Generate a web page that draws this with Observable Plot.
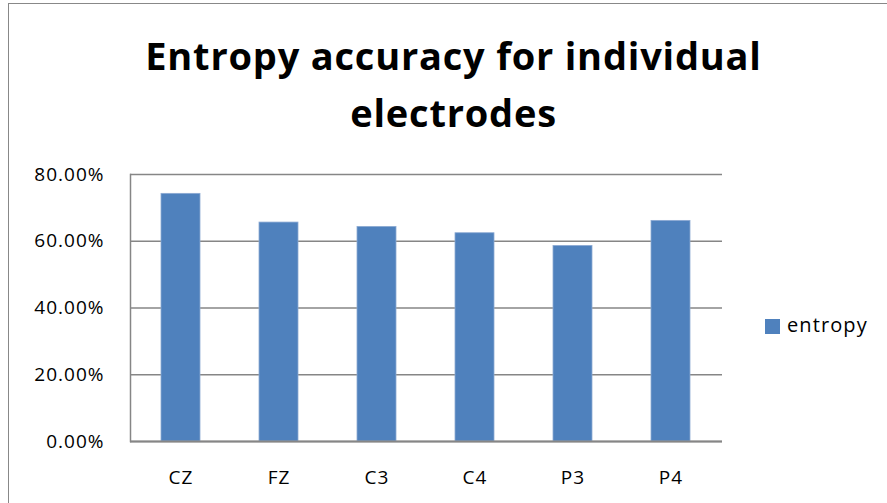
<!DOCTYPE html>
<html>
<head>
<meta charset="utf-8">
<script src="https://cdn.jsdelivr.net/npm/d3@7"></script>
<script src="https://cdn.jsdelivr.net/npm/@observablehq/plot@0.6"></script>
<style>
  html, body { margin: 0; padding: 0; background: #fff; }
  #wrap { position: relative; width: 887px; height: 503px; overflow: hidden; background: #fff; font-family: "Open Sans", sans-serif; }
  #frame { position: absolute; left: 8px; top: 3px; width: 900px; height: 520px; border-left: 1.5px solid #888; border-top: 1.5px solid #888; box-sizing: border-box; }
  #title { position: absolute; left: 0; top: 27px; width: 907px; text-align: center; font-size: 38px; font-weight: bold; line-height: 57px; color: #000; letter-spacing: 0.8px; }
  #legend { position: absolute; left: 765px; top: 311px; display: flex; align-items: center; font-size: 20px; color: #000; letter-spacing: 1.1px; }
  #legend .sw { width: 15px; height: 15px; background: #4F81BD; margin-right: 7px; margin-top: 3px; }
  #chart { position: absolute; left: 0; top: 0; }
</style>
</head>
<body>
<div id="wrap">
  <div id="chart"></div>
  <div id="frame"></div>
  <div id="title">Entropy accuracy for individual<br>electrodes</div>
  <div id="legend"><div class="sw"></div><span>entropy</span></div>
</div>
<script>
const electrodes = ["CZ", "FZ", "C3", "C4", "P3", "P4"];
const entropy = [0.742, 0.656, 0.643, 0.624, 0.586, 0.661];
const yTicks = [0, 0.2, 0.4, 0.6, 0.8];

const data = electrodes.map((e, i) => ({electrode: e, value: entropy[i]}));

const chart = Plot.plot({
  width: 887,
  height: 503,
  marginLeft: 130,
  marginRight: 165,
  marginTop: 174,
  marginBottom: 62,
  style: { fontFamily: "Open Sans, sans-serif", fontSize: "19px", color: "#000", background: "transparent", letterSpacing: "1px" },
  x: { domain: electrodes, paddingInner: 0.6, paddingOuter: 0.3, label: null },
  y: { domain: [0, 0.8], label: null },
  marks: [
    Plot.gridY(yTicks, { stroke: "#868686", strokeOpacity: 1, strokeWidth: 1.5 }),
    Plot.barY(data, { x: "electrode", y: "value", fill: "#4F81BD", stroke: "#8DAAD3", strokeWidth: 0.8 }),
    Plot.axisY(yTicks, { tickSize: 0, tickPadding: 26, tickFormat: d3.format(".2%"), fontSize: 19, fill: "#000" }),
    Plot.axisX({ tickSize: 0, tickPadding: 29, fontSize: 19, fill: "#000" }),
    Plot.ruleY([0], { stroke: "#868686", strokeWidth: 2 }),
    Plot.frame({ anchor: "left", stroke: "#868686", strokeWidth: 1.5 })
  ]
});
document.getElementById("chart").appendChild(chart);
</script>
</body>
</html>
